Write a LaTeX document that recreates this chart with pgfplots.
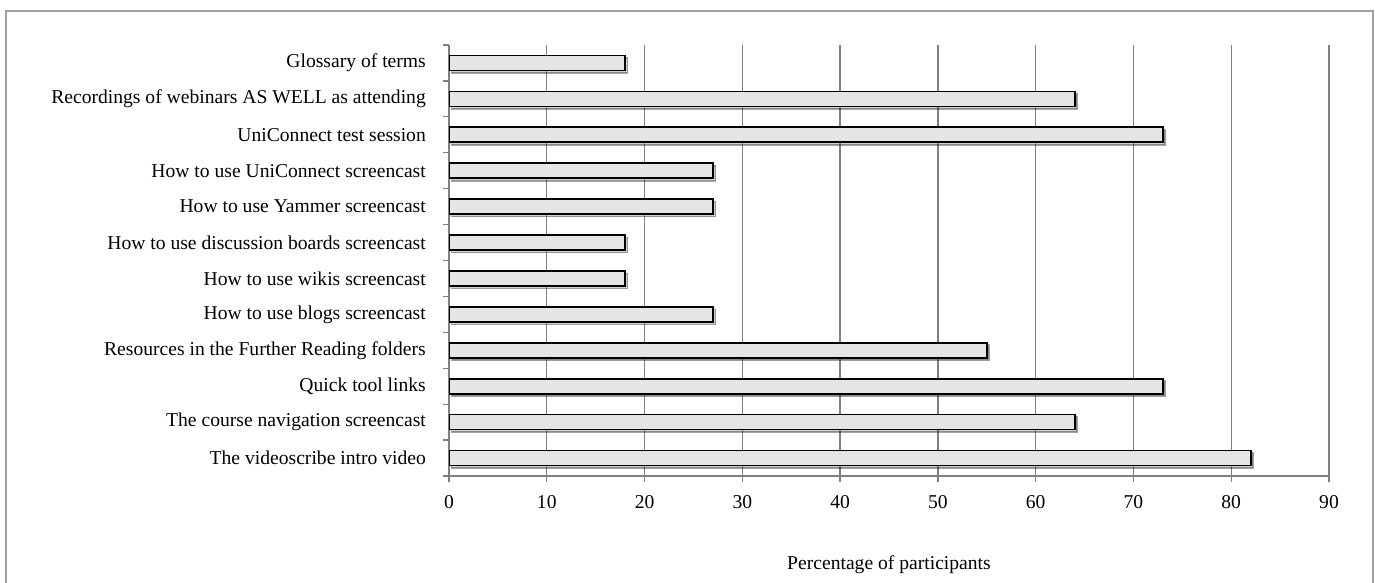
\documentclass[border=0pt]{standalone}
\usepackage{fontspec}
\setmainfont{Liberation Serif}
\usepackage{pgfplots}
\pgfplotsset{compat=1.18}
\usetikzlibrary{shadows}

\pgfplotstableread{
y val
0 82
1 64
2 73
3 55
4 27
5 18
6 18
7 27
8 27
9 73
10 64
11 18
}\resources

\begin{document}
\begin{tikzpicture}
\useasboundingbox (0pt,0pt) rectangle (1375pt,582pt);
\draw[gray!75, line width=1.5pt] (6pt,-10pt) -- (6pt,571pt) -- (1373pt,571pt) -- (1373pt,-10pt);
\begin{axis}[
    at={(449pt,106pt)}, anchor=south west,
    scale only axis,
    width=880pt, height=431pt,
    xbar, bar width=15pt,
    xmin=0, xmax=90,
    ymin=-0.5, ymax=11.5,
    xtick={0,10,...,90},
    ytick={0,...,11},
    yticklabels={The videoscribe intro video,
        The course navigation screencast,
        Quick tool links,
        Resources in the Further Reading folders,
        How to use blogs screencast,
        How to use wikis screencast,
        How to use discussion boards screencast,
        How to use Yammer screencast,
        How to use UniConnect screencast,
        UniConnect test session,
        Recordings of webinars AS WELL as attending,
        Glossary of terms},
    minor ytick={-0.5,0.5,...,11.5},
    axis x line*=bottom, axis y line*=left,
    axis line style={gray, line width=1.3pt},
    tick align=outside, tick pos=left,
    major tick length=6pt, minor tick length=6pt,
    major y tick style={draw=none},
    minor y tick style={gray, line width=1.3pt},
    major x tick style={gray, line width=1.3pt},
    xmajorgrids,
    major grid style={gray, line width=1.3pt},
    /pgf/number format/assume math mode=true,
    tick label style={font=\fontsize{19.6}{23}\selectfont},
    yticklabel style={anchor=east, inner sep=0pt, xshift=-17pt},
    xticklabel style={anchor=center, inner sep=0pt, yshift=-20pt},
    xlabel={Percentage of participants},
    xlabel style={font=\fontsize{19.6}{23}\selectfont, at={(axis description cs:0.5,-0.205)}, anchor=center},
]
\addplot[draw=black, line width=1.6pt, fill=gray!20,
    drop shadow={shadow xshift=2.5pt, shadow yshift=-2.5pt, opacity=0.35}]
    table[x=val, y=y] {\resources};
\end{axis}
\end{tikzpicture}
\end{document}
